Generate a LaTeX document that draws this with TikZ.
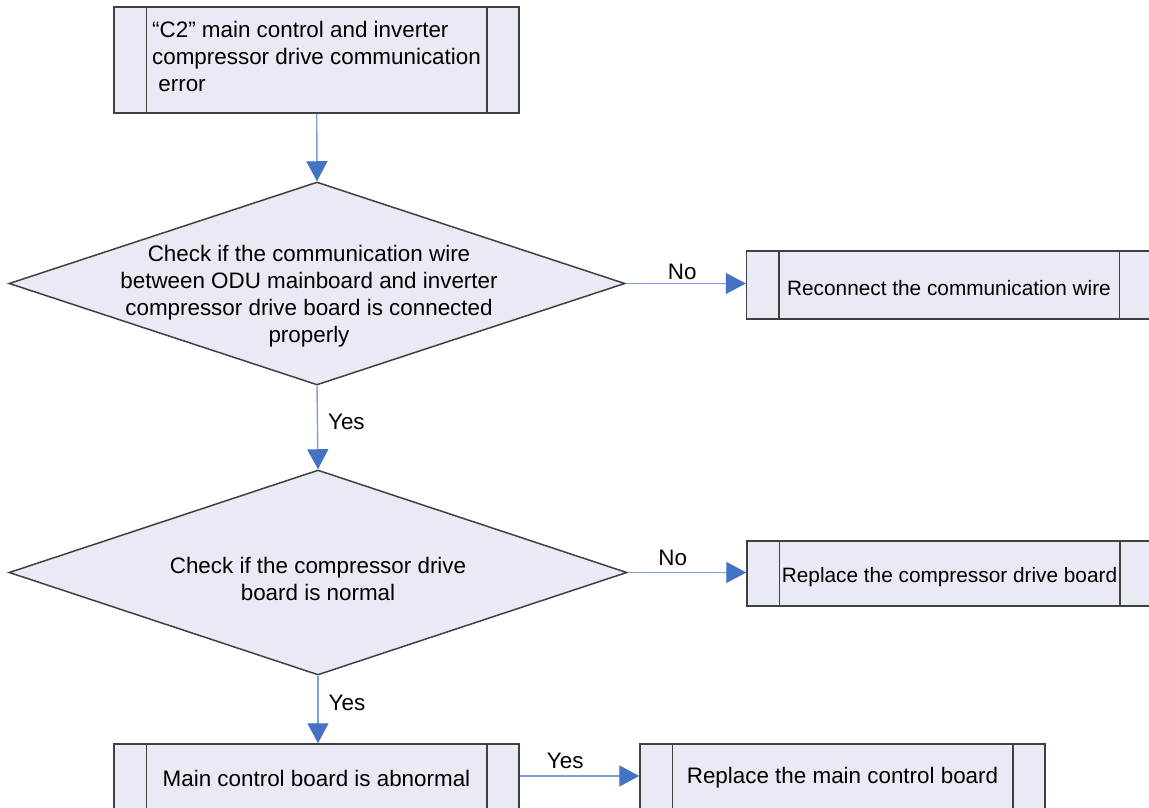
\documentclass[tikz,border=0pt]{standalone}
\usepackage{fontspec}
\setmainfont{Liberation Sans}
\usetikzlibrary{arrows.meta, shapes.geometric}
\definecolor{boxfill}{HTML}{E8EBF4}
\definecolor{boxline}{HTML}{404040}
\definecolor{flowline}{HTML}{7F9FD3}
\definecolor{flowtip}{HTML}{4472C4}
\tikzset{
  proc/.style    = {rectangle, draw=boxline, fill=boxfill, line width=0.75pt,
                    align=center, font=\fontsize{11.2}{13.5}\selectfont,
                    minimum width=202.5pt, minimum height=34pt, inner sep=2pt},
  smallproc/.style={proc, font=\fontsize{10.4}{13.5}\selectfont, text height=11pt},
  decision/.style= {diamond, draw=boxline, fill=boxfill, line width=0.75pt,
                    minimum width=308pt, minimum height=101.5pt, inner sep=0pt},
  txt/.style     = {align=center, font=\fontsize{11.2}{13.5}\selectfont, inner sep=0pt},
  lbl/.style     = {font=\fontsize{11.2}{13.5}\selectfont, inner sep=1pt},
  bar/.style     = {draw=boxline, line width=0.75pt},
  flow/.style    = {-{Triangle[length=10pt, width=10.5pt, color=flowtip]}, line width=0.7pt, draw=flowline},
}

\begin{document}
\begin{tikzpicture}[x=0.5pt, y=-0.5pt]
	\clip (0,0) rectangle (1149,807);
	\fill[white] (0,0) rectangle (1149,807);
	\node[proc, minimum height=53pt, align=left, text depth=4pt] (err) at (316.5,60)
		{``C2'' main control and inverter\\compressor drive communication\\~error};
	\node[decision] (chkwire) at (317,283.5) {};
	\node[txt] at (309,296) {Check if the communication wire\\between ODU mainboard and inverter\\compressor drive board is connected\\properly};
	\node[smallproc] (reconn) at (949,285) {Reconnect the communication wire};
	\node[decision, minimum width=309pt, minimum height=102.5pt] (chkdrv) at (318,572.5) {};
	\node[txt] at (318,578.5) {Check if the compressor drive\\board is normal};
	\node[smallproc, minimum height=32.5pt] (repdrv) at (949.5,573.5) {Replace the compressor drive board};
	\node[proc] (mainab) at (316.5,778) {Main control board is abnormal};
	\node[proc] (repmain) at (842.5,778) {Replace the main control board};
	% inner bars of the process boxes
	\foreach \n in {err, reconn, repdrv, mainab, repmain}{
		\draw[bar] ([xshift=16.5pt]\n.north west) -- ([xshift=16.5pt]\n.south west);
		\draw[bar] ([xshift=-16.5pt]\n.north east) -- ([xshift=-16.5pt]\n.south east);
	}
	\draw[flow] (err) -- (chkwire.north);
	\draw[flow] (chkwire.south) -- node[lbl, right=4pt, pos=0.43] {Yes} (chkdrv.north);
	\draw[flow] (chkdrv.south) -- node[lbl, right=4pt, pos=0.4] {Yes} (chkdrv.south |- mainab.north);
	\draw[flow] (chkwire.east) -- node[lbl, above=0.5pt, pos=0.47] {No} (chkwire.east -| reconn.west);
	\draw[flow] (chkdrv.east) -- node[lbl, above=2pt, pos=0.38] {No} (chkdrv.east -| repdrv.west);
	\draw[flow] ([yshift=1pt]mainab.east) -- node[lbl, above=2.5pt, pos=0.38] {Yes} ([yshift=1pt]repmain.west);
\end{tikzpicture}
\end{document}
